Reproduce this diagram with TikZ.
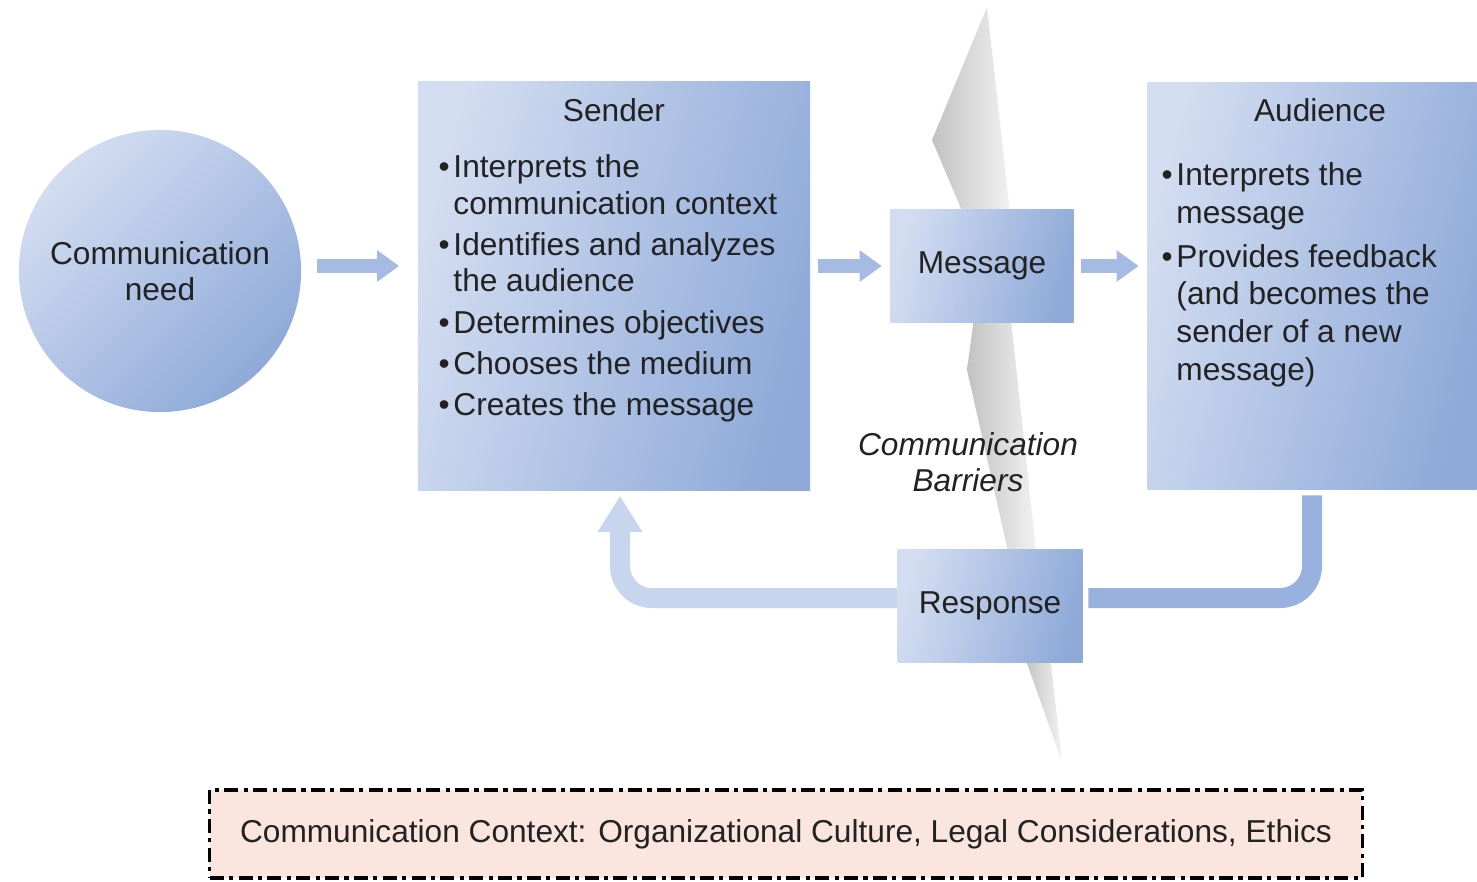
\documentclass[tikz,border=0pt]{standalone}
\usepackage{fontspec}
\setmainfont{Liberation Sans}
\usetikzlibrary{positioning,arrows.meta}

\definecolor{boxlight}{HTML}{D3DDF1}
\definecolor{boxdark}{HTML}{8FAAD9}
\definecolor{flowblue}{HTML}{A6BBE3}
\definecolor{backlight}{HTML}{C8D5EE}
\definecolor{backdark}{HTML}{98B1DE}
\definecolor{ctxpink}{HTML}{FBE5DF}
\definecolor{inkgray}{HTML}{222222}

% bullet with a hanging indent
\newcommand{\bul}{\makebox[4.2pt][l]{\textbullet}}
\newcommand{\cont}{\hspace*{4.2pt}}

\begin{document}
\begin{tikzpicture}[
    x=0.01cm, y=-0.01cm,
    font=\fontsize{9}{10.4}\selectfont, text=inkgray,
    box/.style={inner sep=0pt, left color=boxlight, right color=boxdark,
                shading angle=75},
    blist/.style={anchor=north west, align=left, inner sep=0pt},
    flow/.style={draw=flowblue, line width=0.14cm,
                 -{Triangle[length=0.22cm, width=0.3cm]},
                 shorten <=0.07cm, shorten >=0.08cm},
    back/.style={line width=0.2cm, rounded corners=0.32cm},
    bolt/.style={left color=black!24, right color=black!5, shading angle=90},
  ]
  \useasboundingbox (0,0) rectangle (1477,881);

  % barrier bolt, three pieces behind the boxes
  \shade[bolt] (987,7) -- (932,140) -- (970,230) -- (1012,230) -- cycle;
  \shade[bolt] (975,310) -- (1010,310) -- (1037,560) -- (1010,560)
    -- (967,370) -- cycle;
  \shade[bolt] (1024,655) -- (1050,655) -- (1062,762) -- cycle;

  % main boxes
  \node[circle, box, shading angle=45, minimum size=2.82cm, align=center]
    (need) at (160,271) {Communication\\need};
  \node[box, minimum width=3.92cm, minimum height=4.08cm] (sender) at (614,286) {};
  \node[box, minimum width=1.83cm, minimum height=1.12cm] (msg) at (982,266) {Message};
  \node[box, minimum width=3.29cm, minimum height=4.07cm] (aud) at (1312,286) {};
  \node[box, minimum width=1.85cm, minimum height=1.13cm] (resp) at (990,606) {Response};

  % box contents
  \node (sendertitle) at (614,110) {Sender};
  \node[blist] (senderlist) at (438,154)
    {\bul Interprets the\\
     \cont communication context\\[1.3pt]
     \bul Identifies and analyzes\\
     \cont the audience\\[1.3pt]
     \bul Determines objectives\\[1.3pt]
     \bul Chooses the medium\\[1.3pt]
     \bul Creates the message};
  \node (audtitle) at (1320,110) {Audience};
  \node[blist, font=\fontsize{9}{10.7}\selectfont] (audlist) at (1161,162)
    {\bul Interprets the\\
     \cont message\\[1.8pt]
     \bul Provides feedback\\
     \cont (and becomes the\\
     \cont sender of a new\\
     \cont message)};

  \node[font=\fontsize{9}{10.4}\selectfont\itshape, align=center]
    (barriers) at (968,462) {Communication\\Barriers};

  % forward flow
  \draw[flow, shorten <=0.15cm, shorten >=0.18cm] (need.east |- msg) -- (sender.west |- msg);
  \draw[flow] (sender.east |- msg) -- (msg.west);
  \draw[flow] (msg.east) -- (aud.west |- msg);

  % feedback loop
  \draw[back, draw=backdark, shorten <=0.05cm, shorten >=0.05cm]
    (aud.south) |- ([yshift=0.08cm]resp.east);
  \draw[back, draw=backlight, -{Triangle[length=0.36cm, width=0.42cm]},
        shorten >=0.05cm]
    ([yshift=0.08cm]resp.west) -| ([xshift=0.06cm]sender.south);

  % context strip
  \node[draw=black, fill=ctxpink, line width=1pt,
        dash pattern=on 4pt off 1.5pt on 1.2pt off 1.5pt,
        minimum width=11.52cm, minimum height=0.88cm]
    (context) at (786,834)
    {Communication Context: Organizational Culture, Legal Considerations, Ethics};
\end{tikzpicture}
\end{document}
